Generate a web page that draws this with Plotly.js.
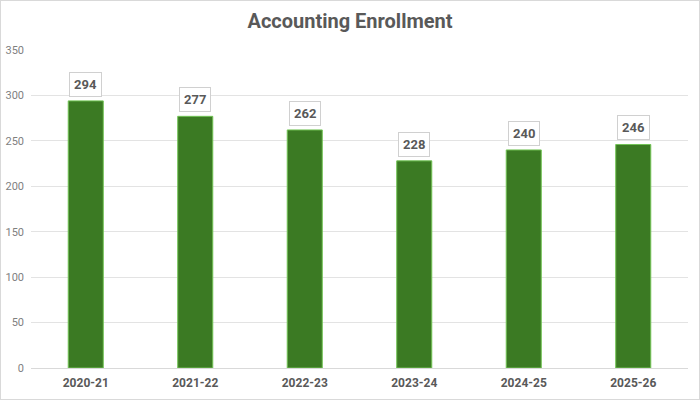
<!DOCTYPE html>
<html>
<head>
<meta charset="utf-8">
<script src="https://cdn.plot.ly/plotly-3.0.1.min.js"></script>
<style>
  html, body { margin: 0; padding: 0; background: #fff; }
  #chart { width: 700px; height: 400px; box-sizing: border-box; border: 1px solid #d9d9d9; }
</style>
</head>
<body>
<div id="chart"></div>
<script>
const years = ['2020-21', '2021-22', '2022-23', '2023-24', '2024-25', '2025-26'];
const enrollment = [294, 277, 262, 228, 240, 246];
const y_ticks = [0, 50, 100, 150, 200, 250, 300, 350];

const bar_trace = {
    x: years,
    y: enrollment,
    type: 'bar',
    width: 0.32,
    marker: {
        color: '#3b7a23',
        line: { color: '#72c455', width: 1 }
    },
    hoverinfo: 'x+y'
};

// value labels in little boxes above each bar
const labels = [];
for (let i = 0; i < years.length; i++) {
    labels.push({
        x: years[i],
        y: enrollment[i],
        text: '<b>' + enrollment[i] + '</b>',
        showarrow: false,
        yanchor: 'bottom',
        yshift: 4,
        font: { family: 'Roboto, sans-serif', size: 13, color: '#595959' },
        bgcolor: '#ffffff',
        bordercolor: '#d0d0d0',
        borderwidth: 1,
        borderpad: 4
    });
}

const layout = {
    width: 698,
    height: 398,
    margin: { l: 30, r: 11, t: 49, b: 31 },
    paper_bgcolor: '#ffffff',
    plot_bgcolor: '#ffffff',
    title: {
        text: '<b>Accounting Enrollment</b>',
        font: { family: 'Roboto, sans-serif', size: 20, color: '#595959' },
        x: 0.5,
        xanchor: 'center',
        y: 0.95,
        yanchor: 'middle'
    },
    xaxis: {
        type: 'category',
        tickfont: { family: 'Roboto, sans-serif', size: 12, color: '#595959', weight: 'bold' },
        showline: true,
        linecolor: '#d9d9d9',
        linewidth: 1,
        ticks: '',
        ticklabelstandoff: 4,
        showgrid: false,
        fixedrange: true
    },
    yaxis: {
        range: [0, 350],
        tickvals: y_ticks,
        tickfont: { family: 'Roboto, sans-serif', size: 11, color: '#7f7f7f' },
        gridcolor: '#e3e3e3',
        gridwidth: 1,
        zeroline: false,
        showline: false,
        ticks: '',
        ticklabelstandoff: 6,
        fixedrange: true
    },
    annotations: labels,
    showlegend: false,
    bargap: 0.68
};

Plotly.newPlot('chart', [bar_trace], layout, { displayModeBar: false, staticPlot: true });
</script>
</body>
</html>
